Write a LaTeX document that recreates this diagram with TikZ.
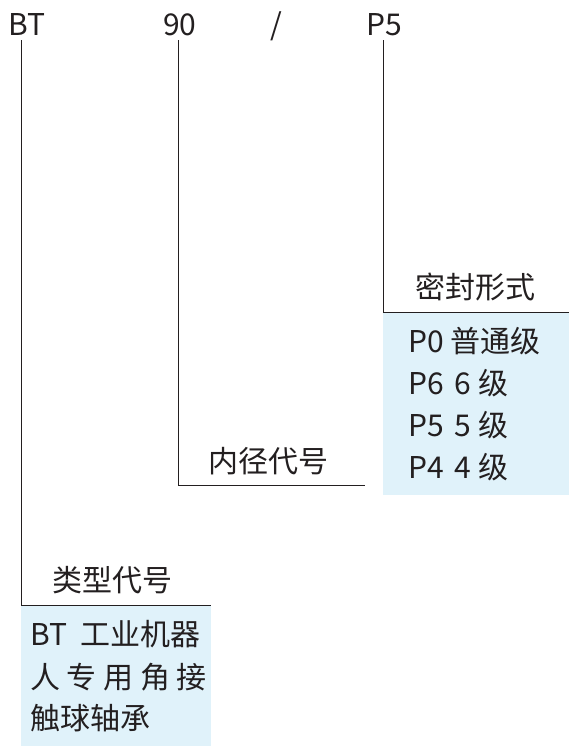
\documentclass[tikz,border=0pt]{standalone}
\usepackage{fontspec}
\setmainfont{Noto Sans CJK SC}
\definecolor{boxblue}{RGB}{224,242,250}
\definecolor{ink}{RGB}{35,31,32}
\tikzset{
  lbl/.style={anchor=base west, inner sep=0pt, text=ink, font=\fontsize{30}{36}\selectfont},
  lead/.style={draw=ink, line width=0.9pt},
  bluebox/.style={fill=boxblue, draw=none, anchor=north west, inner sep=0pt}
}
\begin{document}
\begin{tikzpicture}[x=1pt,y=-1pt]
\useasboundingbox (0,0) rectangle (569,747);
% blue boxes
\node[bluebox, minimum width=190pt, minimum height=140pt] (lbox) at (21,606) {};
\node[bluebox, minimum width=186pt, minimum height=182pt] (rbox) at (383,313) {};
% top code
\node[lbl] (bt) at (8,35) {BT};
\node[lbl] (n90) at (163,35) {90};
\node[lbl] (sl) at (270,35) {/};
\node[lbl] (p5) at (366,35) {P5};
% corners
\coordinate (t1) at (21,40);
\coordinate (c1) at (21,605);
\coordinate (e1) at (211,605);
\coordinate (t2) at (178,40);
\coordinate (c2) at (178,485);
\coordinate (e2) at (365,485);
\coordinate (t3) at (383,40);
\coordinate (c3) at (383,312);
\coordinate (e3) at (569,312);
\draw[lead] (t1) -- (c1) -- (e1);
\draw[lead] (t2) -- (c2) -- (e2);
\draw[lead] (t3) -- (c3) -- (e3);
% headers
\node[lbl] (h1) at (52,591) {类型代号};
\node[lbl] (h2) at (208,472) {内径代号};
\node[lbl] (h3) at (415,298) {密封形式};
% right box lines
\node[lbl] (r1) at (408,352) {P0 普通级};
\node[lbl] (r2) at (408,394) {P6\hspace{0.36em}6 级};
\node[lbl] (r3) at (408,436) {P5\hspace{0.36em}5 级};
\node[lbl] (r4) at (408,478) {P4\hspace{0.36em}4 级};
% left box lines
\node[lbl] (l1) at (30,645) {BT\hspace{0.45em}工业机器};
\node[lbl] (l2) at (30,688) {人\hspace{0.22em}专\hspace{0.22em}用\hspace{0.22em}角\hspace{0.22em}接};
\node[lbl] (l3) at (30,729) {触球轴承};
\end{tikzpicture}
\end{document}
